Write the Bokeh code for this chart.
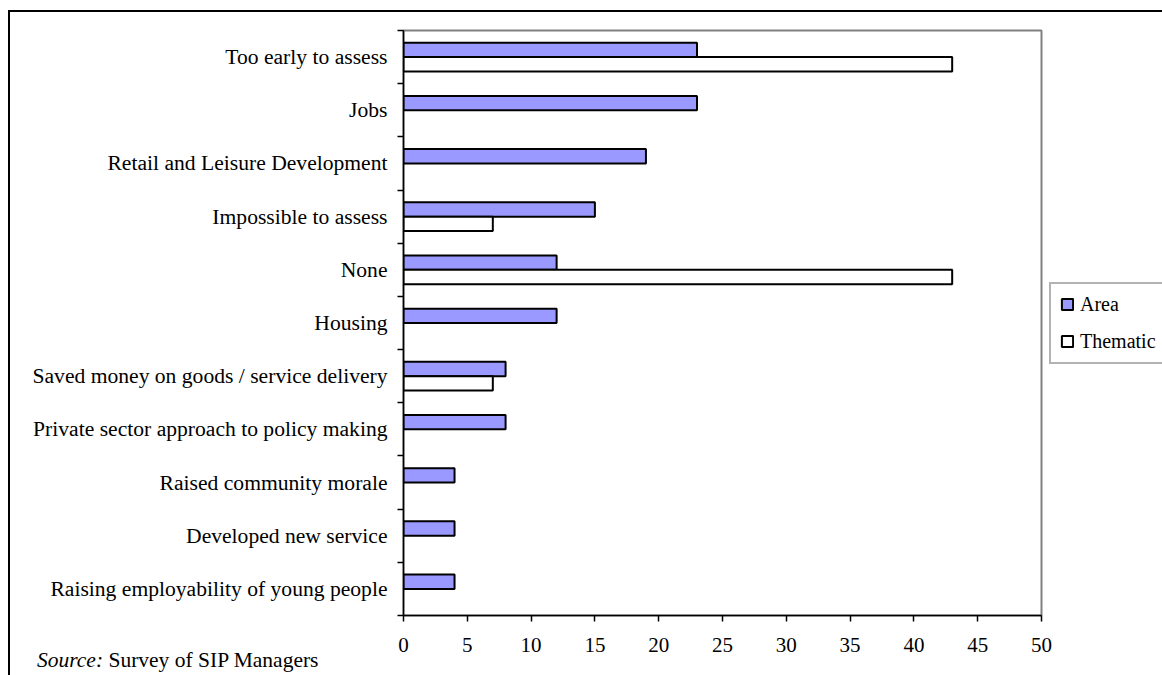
from bokeh.plotting import figure
from bokeh.layouts import column
from bokeh.models import Range1d, FixedTicker, Legend, LegendItem, ColumnDataSource, Div
from bokeh.transform import dodge
from bokeh.embed import file_html
from bokeh.resources import INLINE

categories = [
    "Too early to assess",
    "Jobs",
    "Retail and Leisure Development",
    "Impossible to assess",
    "None",
    "Housing",
    "Saved money on goods / service delivery",
    "Private sector approach to policy making",
    "Raised community morale",
    "Developed new service",
    "Raising employability of young people",
]
area = [23, 23, 19, 15, 12, 12, 8, 8, 4, 4, 4]
thematic = [43, 0, 0, 7, 43, 0, 7, 0, 0, 0, 0]
x_ticks = [0, 5, 10, 15, 20, 25, 30, 35, 40, 45, 50]
series_names = ["Area", "Thematic"]
source_label = "Source:"
source_text = "Survey of SIP Managers"

FONT = "Liberation Serif"
AREA_COLOR = "#9999FF"

n = len(categories)
pos = [n - i - 0.5 for i in range(n)]
src_area = ColumnDataSource(dict(pos=pos, val=area))
th_idx = [i for i, v in enumerate(thematic) if v > 0]
src_th = ColumnDataSource(dict(pos=[pos[i] for i in th_idx], val=[thematic[i] for i in th_idx]))

FW, FH = 636, 583
p = figure(frame_width=FW, frame_height=FH, output_backend="svg", toolbar_location=None,
           x_range=Range1d(0, 50), y_range=Range1d(0, n),
           min_border_left=393, min_border_right=100, min_border_top=18, min_border_bottom=62)
p.styles = {"margin-left": "8px", "margin-top": "10px",
            "border-top": "2px solid black", "border-left": "2px solid black"}
p.background_fill_color = "white"
p.border_fill_color = "white"
p.outline_line_color = "#808080"
p.outline_line_width = 2
p.xgrid.visible = False
p.ygrid.visible = False

bh = 0.27
r_area = p.hbar(y=dodge("pos", bh / 2, range=p.y_range), left=0, right="val", height=bh,
                source=src_area, fill_color=AREA_COLOR, line_color="black", line_width=2)
r_th = p.hbar(y=dodge("pos", -bh / 2, range=p.y_range), left=0, right="val", height=bh,
              source=src_th, fill_color="white", line_color="black", line_width=2)

# x axis
xa = p.xaxis[0]
xa.ticker = FixedTicker(ticks=x_ticks, minor_ticks=[])
xa.axis_line_color = "black"
xa.axis_line_width = 1.5
xa.major_tick_line_color = "black"
xa.major_tick_line_width = 1.5
xa.major_tick_out = 6
xa.major_tick_in = 0
xa.minor_tick_line_color = None
xa.major_label_text_font = FONT
xa.major_label_text_font_size = "21px"
xa.major_label_text_color = "black"
xa.major_label_standoff = 16

# y axis
ya = p.yaxis[0]
ya.ticker = FixedTicker(ticks=pos, minor_ticks=list(range(n + 1)))
ya.major_label_overrides = {pp: c for pp, c in zip(pos, categories)}
ya.axis_line_color = "black"
ya.axis_line_width = 1.5
ya.major_tick_line_color = None
ya.major_tick_out = 0
ya.major_tick_in = 0
ya.minor_tick_line_color = "black"
ya.minor_tick_line_width = 1.5
ya.minor_tick_out = 6
ya.minor_tick_in = 0
ya.major_label_text_font = FONT
ya.major_label_text_font_size = "21.6px"
ya.major_label_text_color = "black"
ya.major_label_standoff = 10

legend = Legend(items=[LegendItem(label=series_names[0], renderers=[r_area]),
                       LegendItem(label=series_names[1], renderers=[r_th])],
                location="left", orientation="vertical")
legend.label_text_font = FONT
legend.label_text_font_size = "20px"
legend.label_text_color = "black"
legend.glyph_width = 14
legend.glyph_height = 14
legend.label_standoff = 6
legend.padding = 9
legend.spacing = 14
legend.margin = 8
legend.border_line_color = "#666666"
legend.border_line_width = 2
legend.background_fill_color = "white"
legend.background_fill_alpha = 1
p.add_layout(legend, "right")

note = Div(text=f"<i>{source_label}</i> {source_text}", width=400, height=24,
           styles={"margin-top": "-27px", "margin-left": "37px",
                   "font-family": "'Liberation Serif'", "font-size": "21.5px",
                   "line-height": "24px", "color": "black", "white-space": "nowrap"})

layout = column(p, note, spacing=0)
open("out.html", "w").write(file_html(layout, INLINE))
